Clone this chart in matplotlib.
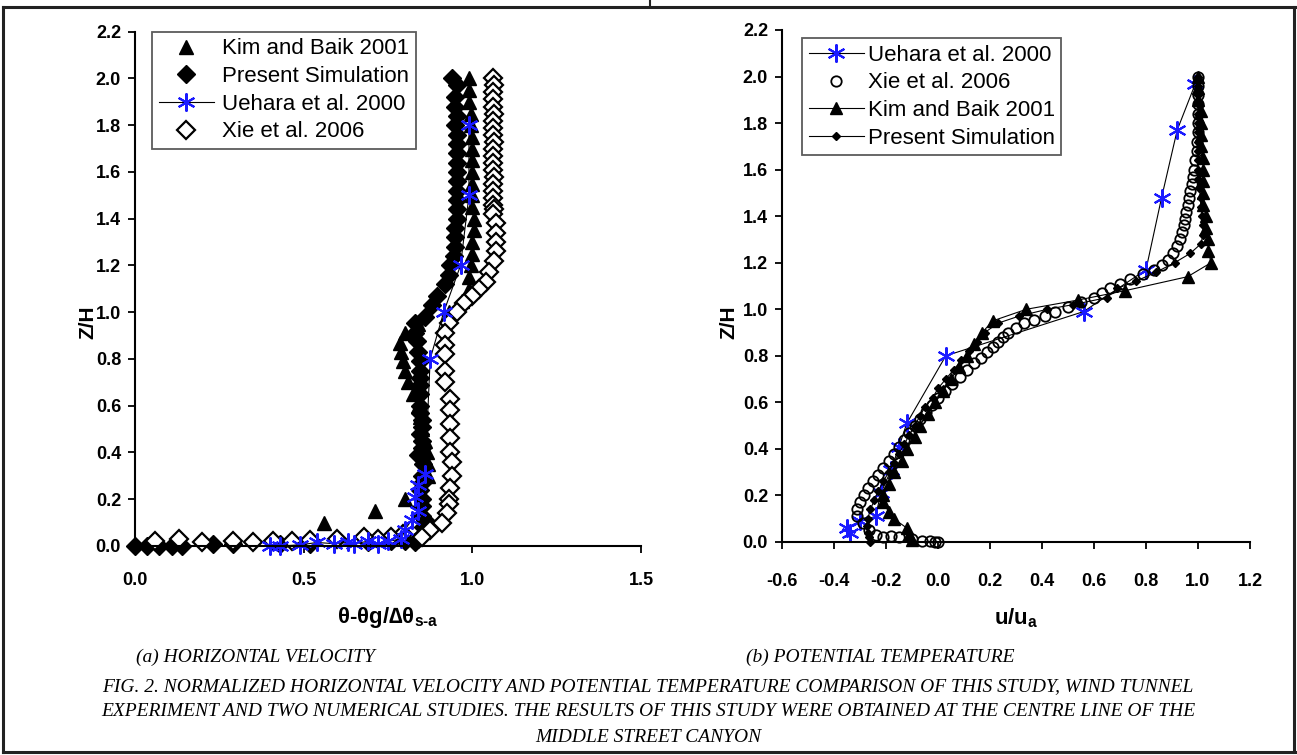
import matplotlib
matplotlib.use("Agg")
import matplotlib.pyplot as plt
from matplotlib.lines import Line2D
from matplotlib.ticker import MultipleLocator, FormatStrFormatter

plt.rcParams['font.family'] = ['Liberation Sans', 'DejaVu Sans']
plt.rcParams['mathtext.fontset'] = 'custom'
plt.rcParams['mathtext.rm'] = 'Liberation Sans:bold'
plt.rcParams['mathtext.bf'] = 'Liberation Sans:bold'
plt.rcParams['axes.unicode_minus'] = False

# ---- (a) left panel: normalised profile vs Z/H ----
kim_a_x = [0.99, 0.99, 0.99, 0.995, 0.995, 1.0, 1.0, 1.0, 1.0, 1.0, 1.0, 1.0, 1.005, 1.005,
           1.0, 1.0, 0.995, 0.99, 0.99, 0.97, 0.93, 0.84, 0.80, 0.785, 0.79, 0.795, 0.80,
           0.81, 0.825, 0.84, 0.845, 0.85, 0.86, 0.865, 0.87, 0.87, 0.80, 0.71, 0.56]
kim_a_z = [2.0, 1.95, 1.9, 1.85, 1.8, 1.75, 1.7, 1.65, 1.6, 1.55, 1.5, 1.45, 1.4, 1.35,
           1.3, 1.25, 1.2, 1.15, 1.1, 1.05, 1.0, 0.95, 0.91, 0.87, 0.83, 0.79, 0.75,
           0.7, 0.65, 0.6, 0.55, 0.5, 0.45, 0.4, 0.35, 0.3, 0.2, 0.15, 0.1]

sim_a_x = [0.94, 0.955, 0.95, 0.95, 0.955, 0.95, 0.955, 0.955, 0.955, 0.955, 0.955, 0.955,
           0.955, 0.955, 0.955, 0.955, 0.95, 0.95, 0.95, 0.945, 0.935, 0.93, 0.92, 0.895,
           0.88, 0.86, 0.83, 0.83, 0.835, 0.84, 0.845, 0.845, 0.845, 0.845, 0.845, 0.845,
           0.845, 0.85, 0.85, 0.845, 0.85, 0.85, 0.84, 0.855, 0.85, 0.85, 0.845, 0.85,
           0.85, 0.85, 0.86, 0.855, 0.855, 0.84, 0.83,
           0.80, 0.76, 0.69, 0.52, 0.43, 0.29, 0.23, 0.14, 0.11, 0.07, 0.035, 0.0]
sim_a_z = [2.0, 1.97, 1.92, 1.88, 1.84, 1.8, 1.76, 1.72, 1.68, 1.64, 1.6, 1.56,
           1.52, 1.48, 1.44, 1.4, 1.36, 1.32, 1.28, 1.24, 1.2, 1.16, 1.12, 1.07,
           1.03, 0.98, 0.955, 0.91, 0.875, 0.83, 0.79, 0.75, 0.72, 0.69, 0.65, 0.6,
           0.57, 0.54, 0.51, 0.48, 0.45, 0.42, 0.39, 0.35, 0.3, 0.27, 0.24, 0.2,
           0.17, 0.13, 0.11, 0.08, 0.05, 0.03, 0.015,
           0.02, 0.02, 0.015, 0.01, 0.01, 0.01, 0.01, 0.0, 0.0, 0.0, 0.0, 0.0]

ueh_a_x = [0.99, 0.99, 0.965, 0.915, 0.875, 0.86, 0.84, 0.83, 0.84, 0.82, 0.80, 0.79,
           0.75, 0.72, 0.69, 0.65, 0.63, 0.59, 0.54, 0.49, 0.43, 0.40]
ueh_a_z = [1.8, 1.5, 1.2, 1.0, 0.8, 0.31, 0.26, 0.21, 0.15, 0.11, 0.07, 0.03,
           0.02, 0.01, 0.02, 0.01, 0.015, 0.01, 0.015, 0.005, 0.0, 0.0]

xie_a_x = [1.06, 1.065, 1.06, 1.06, 1.06, 1.065, 1.06, 1.06, 1.06, 1.065, 1.06, 1.06,
           1.06, 1.06, 1.065, 1.06, 1.06, 1.06, 1.06, 1.065, 1.06, 1.07, 1.07, 1.07,
           1.07, 1.065, 1.05, 1.04, 1.02, 1.0, 0.975, 0.955, 0.93, 0.92, 0.92, 0.92,
           0.92, 0.92, 0.935, 0.935, 0.935, 0.935, 0.935, 0.94, 0.94, 0.935, 0.93,
           0.93, 0.925, 0.91, 0.875, 0.85,
           0.795, 0.76, 0.72, 0.68, 0.60, 0.52, 0.465, 0.41, 0.35, 0.29, 0.20, 0.13, 0.06]
xie_a_z = [2.0, 1.97, 1.94, 1.91, 1.88, 1.85, 1.82, 1.79, 1.76, 1.73, 1.7, 1.67,
           1.64, 1.61, 1.58, 1.55, 1.52, 1.49, 1.46, 1.44, 1.42, 1.38, 1.34, 1.3,
           1.26, 1.22, 1.17, 1.13, 1.1, 1.07, 1.04, 1.0, 0.955, 0.91, 0.86, 0.82,
           0.75, 0.7, 0.63, 0.58, 0.52, 0.46, 0.4, 0.36, 0.3, 0.25, 0.2,
           0.18, 0.14, 0.1, 0.07, 0.04,
           0.05, 0.04, 0.03, 0.04, 0.03, 0.025, 0.02, 0.02, 0.015, 0.02, 0.015, 0.03, 0.02]

# ---- (b) right panel: u/ua vs Z/H ----
ueh_b_x = [0.99, 0.92, 0.86, 0.80, 0.56, 0.03, -0.12, -0.15, -0.18, -0.22, -0.24, -0.30,
           -0.35, -0.34]
ueh_b_z = [1.97, 1.77, 1.48, 1.17, 0.99, 0.80, 0.51, 0.41, 0.31, 0.21, 0.11, 0.09,
           0.06, 0.04]

xie_b_x = [1.0, 1.0, 1.0, 1.0, 1.0, 1.0, 1.0, 0.995, 0.995, 0.99, 0.985, 0.98, 0.975,
           0.97, 0.965, 0.96, 0.955, 0.95, 0.945, 0.94, 0.93, 0.92, 0.905, 0.885, 0.86,
           0.83, 0.79, 0.74, 0.70, 0.66, 0.63, 0.60, 0.55, 0.50, 0.45, 0.41, 0.37, 0.33,
           0.30, 0.27, 0.25, 0.23, 0.21, 0.19, 0.165, 0.14, 0.11, 0.085, 0.055, 0.025,
           0.0, -0.025, -0.045, -0.07, -0.09, -0.11, -0.13, -0.15, -0.17, -0.19, -0.21,
           -0.23, -0.25, -0.27, -0.285, -0.30, -0.31, -0.31, -0.29, -0.265, -0.24, -0.21,
           -0.18, -0.15, -0.10, -0.06, -0.03, -0.01, 0.0]
xie_b_z = [2.0, 1.96, 1.92, 1.88, 1.84, 1.8, 1.76, 1.72, 1.68, 1.64, 1.6, 1.57, 1.54,
           1.51, 1.48, 1.45, 1.42, 1.39, 1.36, 1.33, 1.3, 1.27, 1.24, 1.21, 1.19,
           1.17, 1.15, 1.13, 1.11, 1.09, 1.07, 1.05, 1.03, 1.01, 0.99, 0.97, 0.955, 0.94,
           0.92, 0.9, 0.88, 0.86, 0.84, 0.815, 0.79, 0.77, 0.74, 0.71, 0.68, 0.65,
           0.62, 0.59, 0.56, 0.53, 0.5, 0.47, 0.44, 0.41, 0.38, 0.35, 0.32,
           0.29, 0.26, 0.23, 0.2, 0.17, 0.14, 0.11, 0.08, 0.05, 0.03, 0.02,
           0.025, 0.02, 0.012, 0.005, 0.003, 0.0, 0.0]

kim_b_x = [1.0, 1.0, 1.0, 1.01, 1.01, 1.01, 1.01, 1.02, 1.02, 1.02, 1.02, 1.02, 1.03,
           1.03, 1.04, 1.04, 1.05, 0.96, 0.72, 0.54, 0.34, 0.21, 0.17, 0.14, 0.11,
           0.08, 0.05, 0.02, -0.01, -0.04, -0.07, -0.09, -0.12, -0.14, -0.17, -0.19,
           -0.21, -0.21, -0.19, -0.17, -0.12, -0.11, -0.10]
kim_b_z = [2.0, 1.95, 1.9, 1.85, 1.8, 1.75, 1.7, 1.65, 1.6, 1.55, 1.5, 1.45, 1.4,
           1.35, 1.3, 1.25, 1.2, 1.14, 1.08, 1.04, 1.0, 0.95, 0.9, 0.85, 0.8,
           0.75, 0.7, 0.65, 0.6, 0.55, 0.5, 0.45, 0.4, 0.35, 0.3, 0.25,
           0.2, 0.17, 0.13, 0.1, 0.06, 0.03, 0.01]

sim_b_x = [1.0, 1.0, 1.0, 1.0, 1.0, 1.0, 1.0, 1.0, 1.0, 1.0, 1.0, 1.0, 1.005, 1.01,
           1.01, 1.015, 1.02, 1.02, 1.01, 0.97, 0.91, 0.84, 0.76, 0.69, 0.65, 0.52,
           0.42, 0.31, 0.23, 0.18, 0.15, 0.12, 0.09, 0.06, 0.03, 0.0, -0.02, -0.05,
           -0.07, -0.09, -0.11, -0.13, -0.15, -0.17, -0.19, -0.21, -0.23, -0.245,
           -0.26, -0.27, -0.275, -0.27, -0.265, -0.26]
sim_b_z = [2.0, 1.96, 1.92, 1.88, 1.84, 1.80, 1.76, 1.72, 1.68, 1.64, 1.60, 1.56, 1.52,
           1.48, 1.44, 1.40, 1.36, 1.32, 1.28, 1.24, 1.20, 1.16, 1.12, 1.09, 1.05, 1.02,
           1.0, 0.97, 0.94, 0.9, 0.86, 0.82, 0.78, 0.74, 0.7, 0.66, 0.62, 0.58,
           0.54, 0.5, 0.46, 0.42, 0.38, 0.34, 0.3, 0.26, 0.22, 0.18,
           0.14, 0.1, 0.07, 0.04, 0.02, 0.0]

W, H = 1297, 755
fig = plt.figure(figsize=(W / 100, H / 100), dpi=100)


def px_axes(x0, y0, x1, y1):
    return fig.add_axes([x0 / W, 1 - y1 / H, (x1 - x0) / W, (y1 - y0) / H])


def style(ax, xpad):
    for s in ['top', 'right']:
        ax.spines[s].set_visible(False)
    for s in ['left', 'bottom']:
        ax.spines[s].set_linewidth(1.5)
    ax.tick_params(direction='out', length=5, width=1.3, labelsize=13)
    ax.tick_params(axis='x', pad=xpad)
    ax.tick_params(axis='y', pad=5)
    for lab in ax.get_xticklabels() + ax.get_yticklabels():
        lab.set_fontweight('bold')
    ax.set_ylim(0, 2.2)
    ax.yaxis.set_major_locator(MultipleLocator(0.2))
    ax.yaxis.set_major_formatter(FormatStrFormatter('%.1f'))
    ax.xaxis.set_major_formatter(FormatStrFormatter('%.1f'))


def boxed_legend(ax, handles, x0, y0, textpad):
    leg = ax.legend(handles, [h.get_label() for h in handles], loc='upper left',
                    bbox_to_anchor=(x0 / W, 1 - y0 / H), bbox_transform=fig.transFigure,
                    fontsize=16, frameon=True, fancybox=False, edgecolor='#333333',
                    handlelength=2.5, handletextpad=textpad, borderpad=0.3,
                    labelspacing=0.3, borderaxespad=0)
    leg.get_frame().set_linewidth(1.3)


ast = (6, 2, 0)
blue = '#1a1aff'

ax1 = px_axes(135, 31.7, 641, 546)
ax1.set_xlim(0, 1.5)
ax1.xaxis.set_major_locator(MultipleLocator(0.5))
style(ax1, 14)

h_kim, = ax1.plot(kim_a_x, kim_a_z, ls='none', marker='^', ms=10.5, color='black',
                  clip_on=False, label='Kim and Baik 2001')
h_sim, = ax1.plot(sim_a_x, sim_a_z, ls='none', marker='D', ms=9, color='black',
                  clip_on=False, label='Present Simulation')
h_xie, = ax1.plot(xie_a_x, xie_a_z, ls='none', marker='D', ms=9, mfc='white',
                  mec='black', mew=1.6, clip_on=False, label='Xie et al. 2006')
h_ueh, = ax1.plot(ueh_a_x, ueh_a_z, '-', color='black', lw=0.8, marker=ast, ms=13,
                  mec=blue, mew=1.5, clip_on=False, label='Uehara et al. 2000')
boxed_legend(ax1, [h_kim, h_sim, h_ueh, h_xie], 152, 31.7, 0.35)

ax2 = px_axes(782, 30, 1250, 542)
ax2.set_xlim(-0.6, 1.2)
ax2.xaxis.set_major_locator(MultipleLocator(0.2))
style(ax2, 17)

g_ueh, = ax2.plot(ueh_b_x, ueh_b_z, '-', color='black', lw=0.8, marker=ast, ms=13,
                  mec=blue, mew=1.5, clip_on=False, label='Uehara et al. 2000')
g_xie, = ax2.plot(xie_b_x, xie_b_z, ls='none', marker='o', ms=7.5, mfc='none',
                  mec='black', mew=1.3, clip_on=False, label='Xie et al. 2006')
g_kim, = ax2.plot(kim_b_x, kim_b_z, '-', color='black', lw=0.8, marker='^', ms=8,
                  clip_on=False, label='Kim and Baik 2001')
g_sim, = ax2.plot(sim_b_x, sim_b_z, '-', color='black', lw=0.8, marker='D', ms=4.5,
                  clip_on=False, label='Present Simulation')
boxed_legend(ax2, [g_ueh, g_xie, g_kim, g_sim], 802, 38, 0.15)

# axis titles
fig.text(88 / W, 1 - 322 / H, 'Z/H', rotation=90, fontsize=15, fontweight='bold',
         ha='center', va='center')
fig.text(729 / W, 1 - 322 / H, 'Z/H', rotation=90, fontsize=15, fontweight='bold',
         ha='center', va='center')
fig.text(388 / W, 1 - 618 / H, r'θ-θg/∆θ$_{\mathrm{s}\text{-}\mathrm{a}}$', fontsize=16,
         fontweight='bold', ha='center', va='center')
fig.text(1016 / W, 1 - 618 / H, r'u/u$_{\mathrm{a}}$', fontsize=16,
         fontweight='bold', ha='center', va='center')

# captions
cap = dict(family='Liberation Serif', style='italic', fontsize=14, ha='center',
           va='center')
fig.text(255 / W, 1 - 657 / H, '(a) HORIZONTAL VELOCITY', **cap)
fig.text(880 / W, 1 - 657 / H, '(b) POTENTIAL TEMPERATURE', **cap)
fig.text(648 / W, 1 - 687 / H, 'FIG. 2. NORMALIZED HORIZONTAL VELOCITY AND POTENTIAL '
         'TEMPERATURE COMPARISON OF THIS STUDY, WIND TUNNEL', **cap)
fig.text(648 / W, 1 - 712 / H, 'EXPERIMENT AND TWO NUMERICAL STUDIES. THE RESULTS OF '
         'THIS STUDY WERE OBTAINED AT THE CENTRE LINE OF THE', **cap)
fig.text(648 / W, 1 - 737 / H, 'MIDDLE STREET CANYON', **cap)

# table cell border
border = dict(color='#222222', lw=2.2, transform=fig.transFigure)
fig.add_artist(Line2D([3 / W, 1], [1 - 7 / H, 1 - 7 / H], **border))
fig.add_artist(Line2D([3 / W, 1], [1 - 752 / H, 1 - 752 / H], **border))
fig.add_artist(Line2D([3 / W, 3 / W], [1 - 7 / H, 1 - 752 / H], **border))
fig.add_artist(Line2D([1294 / W, 1294 / W], [1 - 7 / H, 1 - 752 / H], **border))
fig.add_artist(Line2D([650 / W, 650 / W], [1, 1 - 7 / H], color='#222222', lw=1.5,
                      transform=fig.transFigure))

fig.savefig('out.png', dpi=100)
